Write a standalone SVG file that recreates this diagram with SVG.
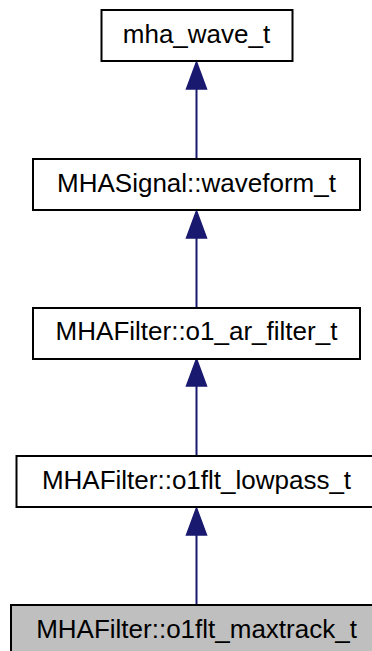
<svg xmlns="http://www.w3.org/2000/svg" width="372" height="651" viewBox="0 0 372 651">
<style>
.box{fill:#ffffff;stroke:#000000;stroke-width:2}
.cur{fill:#bfbfbf;stroke:#000000;stroke-width:2}
.lbl{font-family:"Liberation Sans",Arial,sans-serif;font-size:26px;fill:#000000;text-anchor:middle}
.edge{stroke:#191970;stroke-width:2;fill:none}
.head{fill:#191970;stroke:#191970;stroke-width:1.5}
</style>
<rect width="372" height="651" fill="#ffffff"/>
<g id="connectors">
<line class="edge" x1="196.5" y1="88" x2="196.5" y2="159"/>
<polygon class="head" points="196.5,62 186.5,89 206.5,89"/>
<line class="edge" x1="196.5" y1="237" x2="196.5" y2="308"/>
<polygon class="head" points="196.5,211 186.5,238 206.5,238"/>
<line class="edge" x1="196.5" y1="385" x2="196.5" y2="456"/>
<polygon class="head" points="196.5,359 186.5,386 206.5,386"/>
<line class="edge" x1="196.5" y1="534" x2="196.5" y2="605"/>
<polygon class="head" points="196.5,508 186.5,535 206.5,535"/>
</g>
<g id="node_mha_wave_t">
<rect class="box" x="101.5" y="10" width="191" height="51"/>
<text class="lbl" x="196.5" y="43">mha_wave_t</text>
</g>
<g id="node_waveform_t">
<rect class="box" x="33" y="159" width="327" height="51"/>
<text class="lbl" x="196.5" y="192">MHASignal::waveform_t</text>
</g>
<g id="node_o1_ar_filter_t">
<rect class="box" x="33" y="308" width="327" height="51"/>
<text class="lbl" x="196.5" y="340">MHAFilter::o1_ar_filter_t</text>
</g>
<g id="node_o1flt_lowpass_t">
<rect class="box" x="16.5" y="456" width="360" height="51"/>
<text class="lbl" x="196.5" y="489">MHAFilter::o1flt_lowpass_t</text>
</g>
<g id="node_o1flt_maxtrack_t">
<rect class="cur" x="11" y="605" width="371" height="51"/>
<text class="lbl" x="196.5" y="638">MHAFilter::o1flt_maxtrack_t</text>
</g>
</svg>
